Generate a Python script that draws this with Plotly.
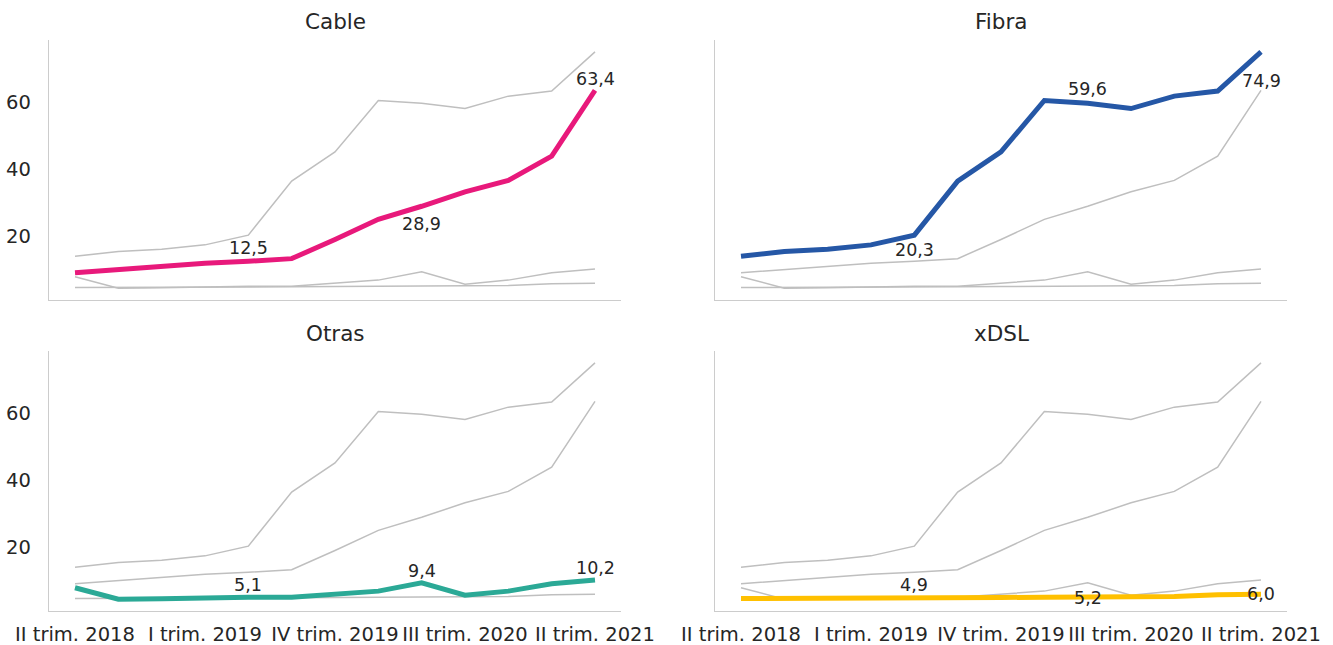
import plotly.graph_objects as go

quarters = ["II trim. 2018", "III trim. 2018", "IV trim. 2018",
            "I trim. 2019", "II trim. 2019", "III trim. 2019", "IV trim. 2019",
            "I trim. 2020", "II trim. 2020", "III trim. 2020", "IV trim. 2020",
            "I trim. 2021", "II trim. 2021"]
tick_labels = ["II trim. 2018", "I trim. 2019", "IV trim. 2019", "III trim. 2020", "II trim. 2021"]

cable = [9.1, 10.1, 11.0, 11.9, 12.5, 13.3, 19.0, 25.0, 28.9, 33.2, 36.6, 43.8, 63.4]
fibra = [14.0, 15.4, 16.1, 17.4, 20.3, 36.4, 45.1, 60.4, 59.6, 58.0, 61.7, 63.2, 74.9]
otras = [7.9, 4.5, 4.6, 4.9, 5.1, 5.1, 6.1, 6.9, 9.4, 5.7, 6.9, 9.1, 10.2]
xdsl = [4.7, 4.7, 4.8, 4.8, 4.9, 4.9, 5.0, 5.1, 5.2, 5.2, 5.3, 5.8, 6.0]

series_names = ["Cable", "Fibra", "Otras", "xDSL"]
series_values = [cable, fibra, otras, xdsl]
series_colors = ["#E8197B", "#2557A6", "#2BA996", "#FFC000"]
label_idx = [4, 8, 12]
label_shift = [[13, -18, 11], [-15, 14, -29], [12, 12, 12], [13, -1, 0]]

TXT = "#262626"
FONT = "DejaVu Sans"
W, H = 1333, 645

xdoms = [[49 / W, 621 / W], [715 / W, 1287 / W]]
ydoms = [[1 - 300 / H, 1 - 40 / H], [1 - 611 / H, 1 - 351 / H]]
title_y = [1 - 21.5 / H, 1 - 333.3 / H]

allv = cable + fibra + otras + xdsl
lo, hi = min(allv), max(allv)
m = 0.05 * (hi - lo)
yr = [lo - m, hi + m]
xr = [-0.6, len(quarters) - 1 + 0.6]

fig = go.Figure()
annotations = []
for p, (name, vals, col) in enumerate(zip(series_names, series_values, series_colors)):
    r, c = divmod(p, 2)
    ax = "" if p == 0 else str(p + 1)
    xa, ya = "x" + ax, "y" + ax
    for v in series_values:
        fig.add_trace(go.Scatter(x=quarters, y=v, mode="lines", xaxis=xa, yaxis=ya,
                                 line=dict(color="#BFBFBF", width=1.5),
                                 hoverinfo="skip", showlegend=False))
    fig.add_trace(go.Scatter(x=quarters, y=vals, mode="lines", xaxis=xa, yaxis=ya,
                             line=dict(color=col, width=5), name=name, showlegend=False))
    for i, s in zip(label_idx, label_shift[p]):
        annotations.append(dict(x=quarters[i], y=vals[i], xref=xa, yref=ya,
                                text=f"{vals[i]:.1f}".replace(".", ","), showarrow=False,
                                yshift=s, font=dict(family=FONT, size=17.5, color=TXT)))
    annotations.append(dict(x=sum(xdoms[c]) / 2, y=title_y[r], xref="paper", yref="paper",
                            text=name, showarrow=False, xanchor="center", yanchor="middle",
                            font=dict(family=FONT, size=21.5, color=TXT)))
    xkey = "xaxis" + ax
    ykey = "yaxis" + ax
    fig.layout[xkey] = dict(domain=xdoms[c], anchor=ya, range=xr, type="category",
                            categoryorder="array", categoryarray=quarters,
                            tickvals=tick_labels, ticktext=tick_labels, tickangle=0,
                            showticklabels=(r == 1), showline=True, linecolor="#CCCCCC",
                            linewidth=1.3, showgrid=False, zeroline=False, automargin=False,
                            ticks="outside" if r == 1 else "", ticklen=5,
                            tickcolor="rgba(0,0,0,0)",
                            tickfont=dict(family=FONT, size=19.5, color=TXT))
    fig.layout[ykey] = dict(domain=ydoms[r], anchor=xa, range=yr, automargin=False,
                            tickvals=[20, 40, 60], showticklabels=(c == 0),
                            showline=True, linecolor="#CCCCCC", linewidth=1.3,
                            showgrid=False, zeroline=False,
                            ticks="outside" if c == 0 else "", ticklen=13,
                            tickcolor="rgba(0,0,0,0)",
                            tickfont=dict(family=FONT, size=19.5, color=TXT))

fig.update_layout(width=W, height=H, margin=dict(l=0, r=0, t=0, b=0, autoexpand=False),
                  paper_bgcolor="white", plot_bgcolor="white",
                  annotations=annotations, showlegend=False,
                  font=dict(family=FONT, color=TXT))
fig.write_html("out.html", config={"displayModeBar": False},
               post_script="document.body.style.margin='0px';document.body.style.overflow='hidden';")
